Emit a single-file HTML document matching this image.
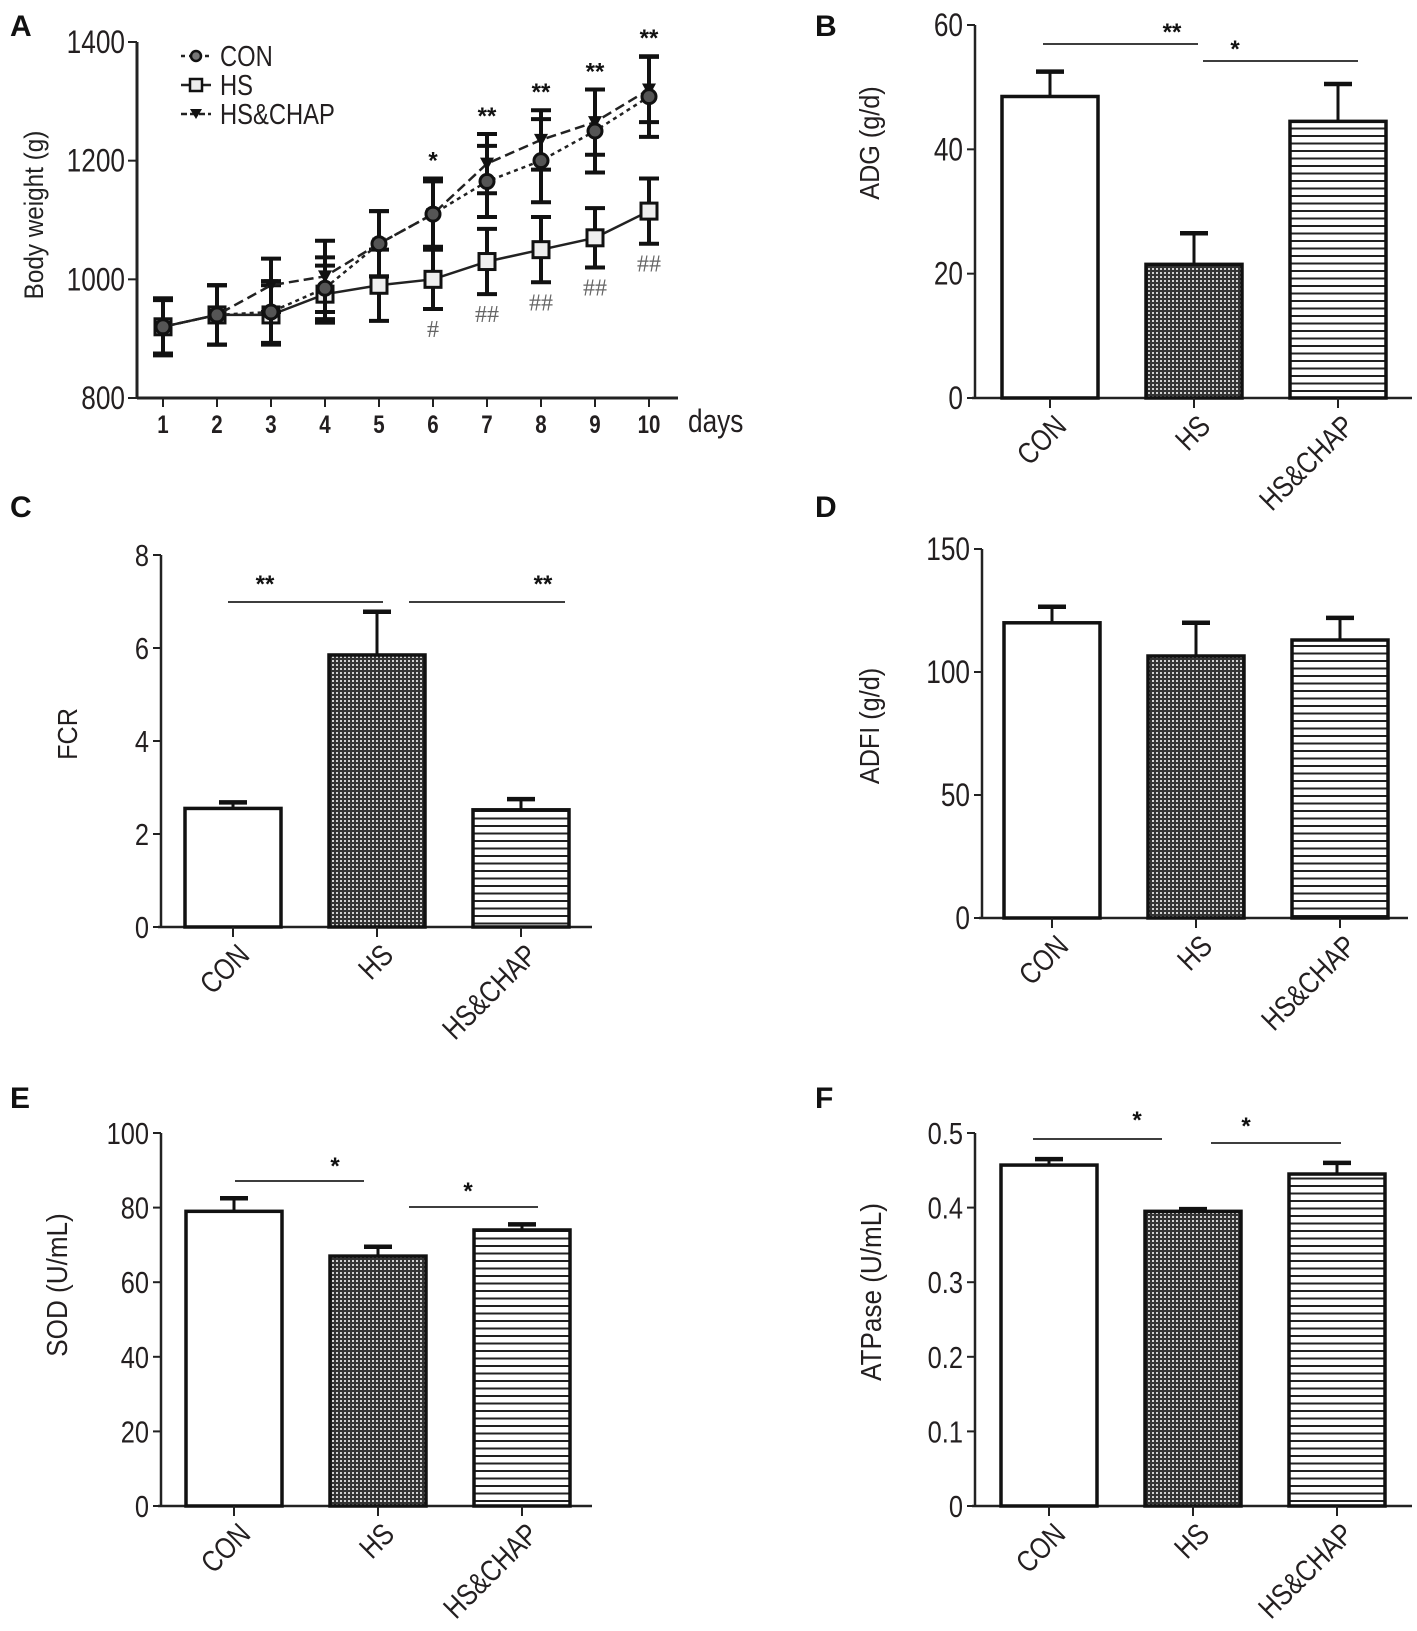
<!DOCTYPE html>
<html><head><meta charset="utf-8">
<style>
html,body{margin:0;padding:0;background:#fff;}
svg{display:block;font-family:"Liberation Sans",sans-serif;}
.pl{font-family:"Liberation Sans",sans-serif;font-weight:bold;font-size:30px;fill:#111;}
</style></head>
<body>
<svg id="fig" width="1417" height="1631" viewBox="0 0 1417 1631" xmlns="http://www.w3.org/2000/svg">
<defs>
<pattern id="dots" width="4" height="4" patternUnits="userSpaceOnUse">
<rect width="4" height="4" fill="#333"/><rect x="0" y="0" width="2" height="2" fill="#d0d0d0"/>
</pattern>
<pattern id="hlines" width="8" height="7.5" patternUnits="userSpaceOnUse">
<rect width="8" height="7.5" fill="#fff"/><rect y="0" width="8" height="2" fill="#222"/>
</pattern>
</defs>
</svg>
<script>
// ---- Panel A data ----
const daysA = [1,2,3,4,5,6,7,8,9,10];
const conA = [920,940,945,985,1060,1110,1165,1200,1250,1308];
const conErrA = [48,50,52,52,55,55,60,70,70,68];
const hsA = [920,940,940,975,990,1000,1030,1050,1070,1115];
const hsErrA = [48,50,50,48,60,50,55,55,50,55];
const hscA = [920,940,990,1005,1060,1110,1195,1235,1265,1320];
const hscErrA = [45,50,45,60,55,60,50,50,55,55];
const starsA = ["","","","","","*","**","**","**","**"];
const hashA = ["","","","","","#","##","##","##","##"];
const yTicksA = [800,1000,1200,1400];
// ---- Bar panels data ----
const groups = ["CON","HS","HS&CHAP"];
const adgVals = [48.5,21.5,44.5];
const adgErr = [4,5,6];
const adgTicks = [0,20,40,60];
const fcrVals = [2.55,5.85,2.52];
const fcrErr = [0.13,0.93,0.23];
const fcrTicks = [0,2,4,6,8];
const adfiVals = [120,106.5,113];
const adfiErr = [6.5,13.5,9];
const adfiTicks = [0,50,100,150];
const sodVals = [79,67,74];
const sodErr = [3.5,2.5,1.5];
const sodTicks = [0,20,40,60,80,100];
const atpVals = [0.457,0.395,0.445];
const atpErr = [0.008,0.003,0.015];
const atpTicks = [0,0.1,0.2,0.3,0.4,0.5];

const svg = document.getElementById('fig');
const NS = 'http://www.w3.org/2000/svg';
function mk(tag, attrs, parent, text){
  const e = document.createElementNS(NS, tag);
  for (const k in attrs) e.setAttribute(k, attrs[k]);
  if (text !== undefined) e.textContent = text;
  (parent||svg).appendChild(e);
  return e;
}
function ntext(parent, x, y, str, size, anchor, rot, extra){
  const a = {x:0, y:0, 'font-size':size, fill:'#231f20', 'text-anchor':anchor||'start',
    transform:`translate(${x},${y})` + (rot?` rotate(${rot})`:'') + ' scale(0.82,1)'};
  if (extra) for (const k in extra) a[k]=extra[k];
  return mk('text', a, parent, str);
}

// ---------- Panel A ----------
(function(){
  const g = mk('g', {});
  
  
  const x0 = 137, y0 = 398, yTop = 42, vmin = 800, vmax = 1400;
  const xs = d => 163 + (d-1)*54.0;
  const ys = v => y0 - (v - vmin)/(vmax - vmin)*(y0 - yTop);
  const lbl = mk('text', {x:10, y:36, class:'pl'}, g, 'A');
  
  
  mk('line', {x1:x0, y1:yTop, x2:x0, y2:y0, stroke:'#222', 'stroke-width':3}, g);
  mk('line', {x1:x0, y1:y0, x2:678, y2:y0, stroke:'#222', 'stroke-width':3}, g);
  yTicksA.forEach(t => {
    mk('line', {x1:x0-9, y1:ys(t), x2:x0, y2:ys(t), stroke:'#222', 'stroke-width':2}, g);
    const tx = ntext(g, x0-12, ys(t)+11, String(t), 32, 'end');
    
    
  });
  daysA.forEach(d => {
    mk('line', {x1:xs(d), y1:y0, x2:xs(d), y2:y0+9, stroke:'#222', 'stroke-width':2}, g);
    const tx = ntext(g, xs(d), 433, String(d), 25, 'middle', 0, {'font-weight':'bold'});
    
    
  });
  const dl = ntext(g, 688, 432, 'days', 32, 'start');
  
  
  const yt = mk('text', {x:0, y:0, 'font-size':27, fill:'#222', 'text-anchor':'middle', transform:'translate(43,215) rotate(-90) scale(0.9,1)'}, g, 'Body weight (g)');
  
  

  function series(vals, errs, dash, name, marker){
    const sg = mk('g', {}, g);
    
    
    const pts = vals.map((v,i)=>xs(daysA[i])+','+ys(v)).join(' ');
    mk('polyline', {points:pts, fill:'none', stroke:'#222', 'stroke-width':2.5, 'stroke-dasharray':dash}, sg);
    vals.forEach((v,i)=>{
      const x = xs(daysA[i]);
      mk('line', {x1:x, y1:ys(v+errs[i]), x2:x, y2:ys(v-errs[i]), stroke:'#111', 'stroke-width':4}, sg);
      mk('line', {x1:x-10, y1:ys(v+errs[i]), x2:x+10, y2:ys(v+errs[i]), stroke:'#111', 'stroke-width':4}, sg);
      mk('line', {x1:x-10, y1:ys(v-errs[i]), x2:x+10, y2:ys(v-errs[i]), stroke:'#111', 'stroke-width':4}, sg);
      const y = ys(v);
      let m;
      if (marker==='circle') m = mk('circle', {cx:x, cy:y, r:7, fill:'#555', stroke:'#111', 'stroke-width':3}, sg);
      else if (marker==='square') m = mk('rect', {x:x-8, y:y-8, width:16, height:16, fill:'#eee', stroke:'#111', 'stroke-width':3}, sg);
      else m = mk('path', {d:`M${x-7},${y-6} L${x+7},${y-6} L${x},${y+7} Z`, fill:'#111'}, sg);
      
      
    });
  }
  series(hsA, hsErrA, 'none', 'series-hs', 'square');
  series(hscA, hscErrA, '10,5', 'series-hs-chap', 'tri');
  series(conA, conErrA, '4,4', 'series-con', 'circle');
  daysA.forEach((d,i)=>{
    if (starsA[i]) {
      const top = Math.max(conA[i]+conErrA[i], hscA[i]+hscErrA[i]);
      const s = mk('text', {x:xs(d), y:ys(top)-10, 'text-anchor':'middle', 'font-size':24, 'font-weight':'bold', fill:'#111'}, g, starsA[i]);
      
      
    }
    if (hashA[i]) {
      const h = mk('text', {x:xs(d), y:ys(hsA[i]-hsErrA[i])+28, 'text-anchor':'middle', 'font-size':24, fill:'#666', 'font-family':'Liberation Serif,serif'}, g, hashA[i]);
      
      
    }
  });
  const lg = mk('g', {}, g);
  
  
  const legs = [['CON','4,4','circle'],['HS','none','square'],['HS&CHAP','6,3','tri']];
  legs.forEach((l,i)=>{
    const y = 56 + i*29;
    const e = mk('g', {}, lg);
    
    
    mk('line', {x1:181, y1:y, x2:211, y2:y, stroke:'#222', 'stroke-width':2.5, 'stroke-dasharray':l[1]}, e);
    if (l[2]==='circle') mk('circle', {cx:196, cy:y, r:5, fill:'#777', stroke:'#111', 'stroke-width':2.5}, e);
    else if (l[2]==='square') mk('rect', {x:190, y:y-6, width:12, height:12, fill:'#eee', stroke:'#111', 'stroke-width':2.5}, e);
    else mk('path', {d:`M190,${y-5} L202,${y-5} L196,${y+5} Z`, fill:'#111'}, e);
    ntext(e, 220, y+10, l[0], 29, 'start');
  });
})();

// ---------- Bar panels ----------
function barPanel(o){
  const g = mk('g', {});
  
  
  const vmax = o.ticks[o.ticks.length-1];
  const ys = v => o.y0 - v/vmax*(o.y0 - o.yTop);
  const lbl = mk('text', {x:o.lx, y:o.ly, class:'pl'}, g, o.letter);
  
  
  mk('line', {x1:o.x0, y1:o.yTop, x2:o.x0, y2:o.y0, stroke:'#222', 'stroke-width':2.5}, g);
  mk('line', {x1:o.x0-3, y1:o.y0, x2:o.xEnd, y2:o.y0, stroke:'#222', 'stroke-width':2.5}, g);
  o.ticks.forEach(t=>{
    mk('line', {x1:o.x0-8, y1:ys(t), x2:o.x0, y2:ys(t), stroke:'#222', 'stroke-width':2}, g);
    const tx = ntext(g, o.x0-12, ys(t)+11, String(t), o.fs, 'end');
    
    
  });
  const yt = mk('text', {x:0, y:0, 'font-size':o.tfs, fill:'#231f20', 'text-anchor':'middle', transform:`translate(${o.tx},${o.ty}) rotate(-90) scale(0.9,1)`}, g, o.title);
  
  
  const fills = ['#fff','url(#dots)','url(#hlines)'];
  const bw = 96, step = 144;
  groups.forEach((c,i)=>{
    const cx = o.c0 + i*step;
    const v = o.vals[i], e = o.errs[i];
    mk('line', {x1:cx, y1:ys(v+e), x2:cx, y2:ys(v), stroke:'#111', 'stroke-width':3}, g);
    mk('line', {x1:cx-14, y1:ys(v+e), x2:cx+14, y2:ys(v+e), stroke:'#111', 'stroke-width':4.5}, g);
    const r = mk('rect', {x:cx-bw/2, y:ys(v), width:bw, height:o.y0-ys(v), fill:fills[i], stroke:'#111', 'stroke-width':3.5}, g);
    
    
    mk('line', {x1:cx, y1:o.y0, x2:cx, y2:o.y0+10, stroke:'#222', 'stroke-width':2}, g);
    const tl = ntext(g, cx+18, o.y0+30, c, 30, 'end', -45);
    
    
  });
  o.sig.forEach(s=>{
    mk('line', {x1:s[0], y1:s[2], x2:s[1], y2:s[2], stroke:'#222', 'stroke-width':1.8}, g);
    const st = mk('text', {x:s[3], y:s[4], 'text-anchor':'middle', 'font-size':24, 'font-weight':'bold', fill:'#111'}, g, s[5]);
    
    
  });
}
barPanel({name:'panel-b-adg', letter:'B', lx:815, ly:36, x0:975, y0:398, yTop:25, xEnd:1412, c0:1050, vals:adgVals, errs:adgErr, ticks:adgTicks, fs:32, tfs:28, title:'ADG (g/d)', tx:879, ty:143,
  sig:[[1043,1198,44,1172,40,'**'],[1203,1358,61,1235,57,'*']]});
barPanel({name:'panel-c-fcr', letter:'C', lx:10, ly:517, x0:161, y0:927, yTop:555, xEnd:592, c0:233, vals:fcrVals, errs:fcrErr, ticks:fcrTicks, fs:31, tfs:28, title:'FCR', tx:77, ty:734,
  sig:[[228,383,602,265,592,'**'],[409,565,602,543,592,'**']]});
barPanel({name:'panel-d-adfi', letter:'D', lx:815, ly:517, x0:982, y0:918, yTop:549, xEnd:1408, c0:1052, vals:adfiVals, errs:adfiErr, ticks:adfiTicks, fs:32, tfs:28, title:'ADFI (g/d)', tx:879, ty:726,
  sig:[]});
barPanel({name:'panel-e-sod', letter:'E', lx:10, ly:1108, x0:161, y0:1506, yTop:1133, xEnd:592, c0:234, vals:sodVals, errs:sodErr, ticks:sodTicks, fs:31, tfs:29, title:'SOD (U/mL)', tx:67, ty:1285,
  sig:[[235,364,1181,335,1174,'*'],[409,538,1207,468,1199,'*']]});
barPanel({name:'panel-f-atpase', letter:'F', lx:815, ly:1108, x0:975, y0:1506, yTop:1133, xEnd:1412, c0:1049, vals:atpVals, errs:atpErr, ticks:atpTicks, fs:31, tfs:29, title:'ATPase (U/mL)', tx:881, ty:1292,
  sig:[[1033,1162,1139,1137,1128,'*'],[1211,1341,1143,1246,1134,'*']]});
</script>
</body></html>
